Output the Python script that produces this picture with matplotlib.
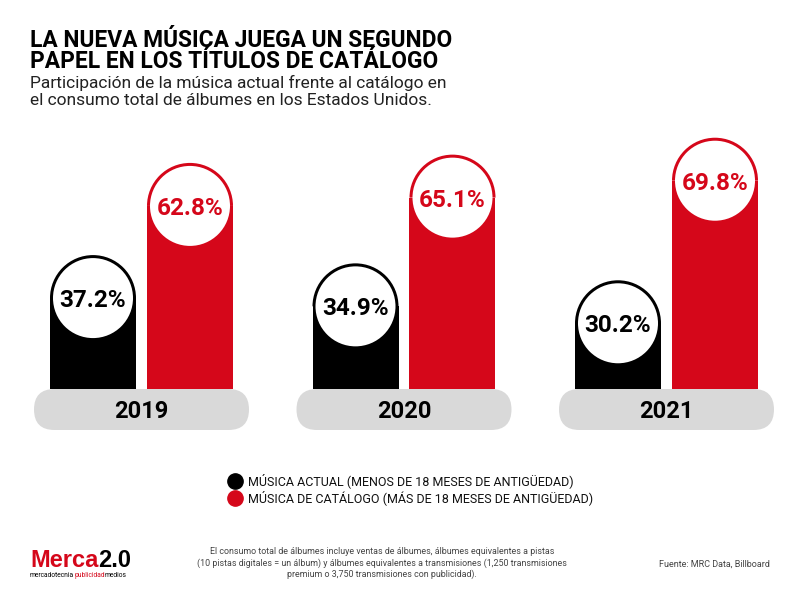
import matplotlib.pyplot as plt
import matplotlib.patches as patches

# ─────────────────────────────────────────────
# DATOS
# ─────────────────────────────────────────────
anios = ["2019", "2020", "2021"]
musica_actual = [37.2, 34.9, 30.2]      # % (menos de 18 meses)
musica_catalogo = [62.8, 65.1, 69.8]    # % (más de 18 meses)

titulo = ["LA NUEVA MÚSICA JUEGA UN SEGUNDO", "PAPEL EN LOS TÍTULOS DE CATÁLOGO"]
subtitulo = ["Participación de la música actual frente al catálogo en",
             "el consumo total de álbumes en los Estados Unidos."]
leyenda = ["MÚSICA ACTUAL (MENOS DE 18 MESES DE ANTIGÜEDAD)",
           "MÚSICA DE CATÁLOGO (MÁS DE 18 MESES DE ANTIGÜEDAD)"]
nota = ["El consumo total de álbumes incluye ventas de álbumes, álbumes equivalentes a pistas",
        "(10 pistas digitales = un álbum) y álbumes equivalentes a transmisiones (1,250 transmisiones",
        "premium o 3,750 transmisiones con publicidad)."]
fuente = "Fuente: MRC Data, Billboard"

ROJO = "#d5071a"
NEGRO = "#000000"
GRIS = "#d9d9d9"

# ─────────────────────────────────────────────
# LIENZO (1 unidad de datos = 3.6 px en ambos ejes)
# ─────────────────────────────────────────────
ESC = 3.6
W, H = 800, 600
BASE = 389          # línea base (px desde arriba)

fig = plt.figure(figsize=(8, 6), dpi=100)
fig.patch.set_facecolor("white")
ax = fig.add_axes([0, 0, 1, 1])
ax.set_xlim(0, W / ESC)
ax.set_ylim(-(H - BASE) / ESC, BASE / ESC)
ax.axis("off")


def px(x, y):
    """píxeles (desde arriba a la izquierda) -> fracción de figura"""
    return x / W, 1 - y / H


def dx(x):
    return x / ESC


ancho = dx(86)
r = ancho / 2
r_int = dx(40)
sep = dx(48.5)

for i, anio in enumerate(anios):
    cx = dx(141.5 + i * 262.5)

    # píldora gris con el año
    pil = patches.FancyBboxPatch((cx - dx(107.5), -dx(41)), dx(215), dx(41),
                                 boxstyle=f"round,pad=0,rounding_size={dx(20.5)}",
                                 facecolor=GRIS, edgecolor="none", zorder=1)
    ax.add_patch(pil)
    ax.text(cx, -dx(20.5), anio, ha="center", va="center_baseline",
            fontsize=17, fontweight="bold", family="Roboto", color=NEGRO, zorder=5)

    for x, v, c in [(cx - sep, musica_actual[i], NEGRO),
                    (cx + sep, musica_catalogo[i], ROJO)]:
        yc = v - r
        ax.bar(x, yc, width=ancho, bottom=0, color=c, zorder=2)
        ax.add_patch(patches.Wedge((x, yc), r, 0, 180, facecolor=c,
                                   edgecolor="none", zorder=2))
        ax.add_patch(patches.Circle((x, yc), r_int, facecolor="white",
                                    edgecolor="none", zorder=3))
        ax.text(x, yc, f"{v:.1f}%", ha="center", va="center_baseline",
                fontsize=17.5, fontweight="bold", family="Roboto", color=c, zorder=4)

# ─────────────────────────────────────────────
# TÍTULOS
# ─────────────────────────────────────────────
fig.text(*px(30, 67.5), "\n".join(titulo), ha="left", va="baseline",
         fontsize=16.4, fontweight="bold", family="Roboto", color=NEGRO,
         linespacing=0.86)
fig.text(*px(30, 105), "\n".join(subtitulo), ha="left", va="baseline",
         fontsize=12.5, family="Roboto", color="#222222", linespacing=1.2)

# ─────────────────────────────────────────────
# LEYENDA
# ─────────────────────────────────────────────
for j, (txt, c) in enumerate(zip(leyenda, [NEGRO, ROJO])):
    yy = 480.5 + j * 17.5
    ax.plot(dx(235), (BASE - yy) / ESC, marker="o", markersize=11,
            color=c, linestyle="none")
    fig.text(*px(248, yy), txt, ha="left", va="center",
             fontsize=9, family="Roboto", color="#111111")

# ─────────────────────────────────────────────
# PIE
# ─────────────────────────────────────────────
fig.text(*px(382, 577), "\n".join(nota), ha="center", va="baseline",
         fontsize=6.4, family="Roboto", color="#444444", linespacing=1.25)
fig.text(*px(770, 567), fuente, ha="right", va="baseline", fontsize=6.5,
         family="Roboto", color="#444444")

# logo Merca2.0 (texto encadenado)
fig.canvas.draw()
rend = fig.canvas.get_renderer()


def encadenar(partes, x, y, **kw):
    for txt, c in partes:
        t = fig.text(*px(x, y), txt, ha="left", va="baseline", color=c, **kw)
        x += t.get_window_extent(rend).width


encadenar([("Merca", ROJO), ("2.0", NEGRO)], 30, 567,
          fontsize=17, fontweight="bold", family="Liberation Sans")
encadenar([("mercadotecnia", NEGRO), ("publicidad", ROJO), ("medios", NEGRO)],
          30, 577, fontsize=4.8, family="Roboto")

plt.savefig("out.png", dpi=100)
